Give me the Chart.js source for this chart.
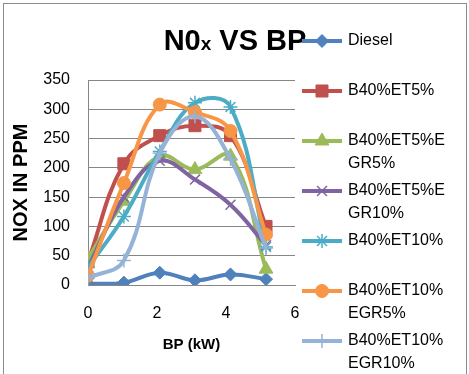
<!DOCTYPE html>
<html>
<head>
<meta charset="utf-8">
<script src="https://cdn.jsdelivr.net/npm/chart.js@4/dist/chart.umd.min.js"></script>
<style>
  html, body { margin: 0; padding: 0; background: #fff; }
</style>
</head>
<body>
<canvas id="noxChart" width="469" height="374"></canvas>
<script>
// Brake power (kW) at each load step
const bpValues = [0, 1.04, 2.08, 3.1, 4.13, 5.16];

const seriesNames = ['Diesel', 'B40%ET5%', 'B40%ET5%EGR5%', 'B40%ET5%EGR10%',
    'B40%ET10%', 'B40%ET10%EGR5%', 'B40%ET10%EGR10%'];

// NOx (ppm)
const noxDiesel = [2, 4, 21, 8, 18, 10];
const noxB40ET5 = [40, 207, 255, 272, 255, 100];
const noxB40ET5EGR5 = [45, 143, 220, 197, 220, 27];
const noxB40ET5EGR10 = [30, 150, 212, 180, 137, 68];
const noxB40ET10 = [30, 117, 228, 311, 304, 65];
const noxB40ET10EGR5 = [16, 174, 308, 295, 263, 86];
const noxB40ET10EGR10 = [12, 42, 225, 288, 215, 63];

const yTicks = [0, 50, 100, 150, 200, 250, 300, 350];
const xTicks = [0, 2, 4, 6];

const allSeries = [noxDiesel, noxB40ET5, noxB40ET5EGR5, noxB40ET5EGR10,
    noxB40ET10, noxB40ET10EGR5, noxB40ET10EGR10];

const colors = ['#4F81BD', '#C0504D', '#9BBB59', '#8064A2', '#4BACC6', '#F79646', '#95B3D7'];
const markers = ['rectRot', 'rect', 'triangle', 'crossRot', 'star', 'circle', 'cross'];
const markerSizes = [6.5, 8.5, 8, 7, 7, 6.5, 7];

const FONT = '"Liberation Sans", Arial, sans-serif';
const GRID = '#868686';

function toPoints(values) {
    return bpValues.map((x, i) => ({x: x, y: values[i]}));
}

// break a legend label into lines that fit the legend column
function wrapChars(ctx, text, maxWidth) {
    const lines = [];
    let line = '';
    for (const ch of text) {
        if (line && ctx.measureText(line + ch).width > maxWidth) {
            lines.push(line);
            line = ch;
        } else {
            line += ch;
        }
    }
    if (line) lines.push(line);
    return lines;
}

const framePlugin = {
    id: 'frame',
    beforeDraw(chart) {
        const ctx = chart.ctx;
        ctx.save();
        ctx.fillStyle = '#fff';
        ctx.fillRect(0, 0, chart.width, chart.height);
        ctx.strokeStyle = '#8c8c8c';
        ctx.lineWidth = 1;
        ctx.strokeRect(3.5, 3.5, 463, 420);
        ctx.restore();
    },
    afterDraw(chart) {
        const ctx = chart.ctx;
        ctx.save();

        // title, with the small "x"
        const parts = [['N0', 29], ['x', 19], [' VS BP', 29]];
        let total = 0;
        parts.forEach(p => {
            ctx.font = 'bold ' + p[1] + 'px ' + FONT;
            total += ctx.measureText(p[0]).width;
        });
        let tx = 235 - total / 2;
        ctx.fillStyle = '#000';
        ctx.textBaseline = 'alphabetic';
        ctx.textAlign = 'left';
        parts.forEach(p => {
            ctx.font = 'bold ' + p[1] + 'px ' + FONT;
            ctx.fillText(p[0], tx, 50);
            tx += ctx.measureText(p[0]).width;
        });

        // legend
        ctx.textBaseline = 'middle';
        chart.data.datasets.forEach((ds, i) => {
            const y = 41 + 50 * i;
            ctx.strokeStyle = ds.borderColor;
            ctx.fillStyle = ds.borderColor;
            ctx.lineWidth = 4;
            ctx.beginPath();
            ctx.moveTo(302, y);
            ctx.lineTo(342, y);
            ctx.stroke();
            ctx.lineWidth = ds.pointBorderWidth;
            Chart.helpers.drawPoint(ctx, {
                pointStyle: ds.pointStyle,
                radius: ds.pointRadius,
                borderWidth: ds.pointBorderWidth,
                rotation: 0
            }, 322, y);
            ctx.font = '16px ' + FONT;
            ctx.fillStyle = '#000';
            wrapChars(ctx, ds.label, 103).forEach((ln, k) => {
                ctx.fillText(ln, 348, y + 23 * k);
            });
        });
        ctx.restore();
    }
};

const datasets = allSeries.map((values, i) => ({
    label: seriesNames[i],
    data: toPoints(values),
    borderColor: colors[i],
    backgroundColor: colors[i],
    borderWidth: 4,
    tension: 0.4,
    pointStyle: markers[i],
    pointRadius: markerSizes[i],
    pointBorderWidth: (markers[i] === 'crossRot' || markers[i] === 'star' || markers[i] === 'cross') ? 1.5 : 1,
    pointBackgroundColor: colors[i],
    pointBorderColor: colors[i],
    order: allSeries.length - i
}));

new Chart(document.getElementById('noxChart'), {
    type: 'line',
    data: { datasets: datasets },
    options: {
        responsive: false,
        animation: false,
        devicePixelRatio: 1,
        layout: { padding: { left: 0, right: 174, top: 80, bottom: 0 } },
        plugins: {
            legend: { display: false },
            title: { display: false },
            tooltip: { enabled: false }
        },
        scales: {
            x: {
                type: 'linear',
                min: 0,
                max: 6,
                afterBuildTicks: (scale) => { scale.ticks = xTicks.map(v => ({value: v})); },
                afterFit: (scale) => { scale.height = 89; },
                grid: { display: false, drawTicks: false },
                border: { display: true, color: GRID, width: 1 },
                ticks: { padding: 19, color: '#000', font: { family: FONT, size: 16 } },
                title: {
                    display: true,
                    text: 'BP (kW)',
                    color: '#000',
                    font: { family: FONT, size: 15, weight: 'bold' },
                    padding: { top: 0, bottom: 20 }
                }
            },
            y: {
                min: 0,
                max: 350,
                afterBuildTicks: (scale) => { scale.ticks = yTicks.map(v => ({value: v})); },
                afterFit: (scale) => { scale.width = 88; },
                grid: { color: GRID, lineWidth: 1, drawTicks: false },
                border: { display: true, color: GRID, width: 1 },
                ticks: { padding: 18, color: '#000', font: { family: FONT, size: 16 } },
                title: {
                    display: true,
                    text: 'NOX IN PPM',
                    color: '#000',
                    font: { family: FONT, size: 20, weight: 'bold' },
                    padding: { top: 9, bottom: 0 }
                }
            }
        }
    },
    plugins: [framePlugin]
});
</script>
</body>
</html>
